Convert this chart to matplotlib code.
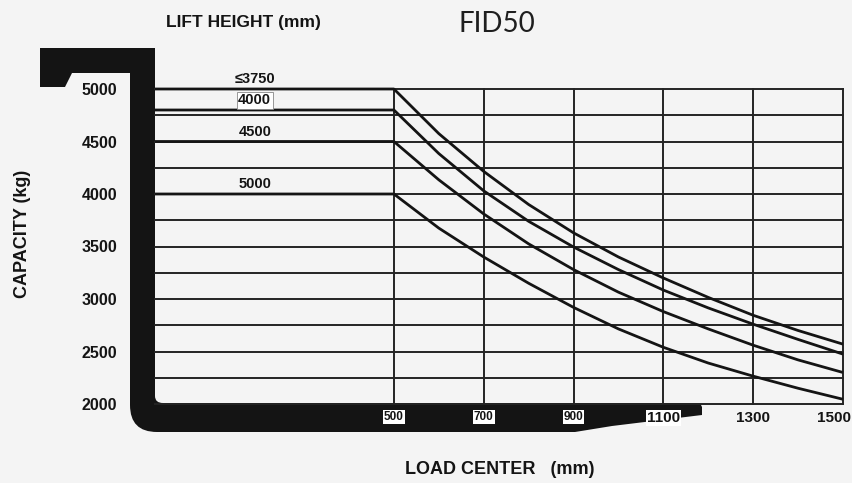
import matplotlib
matplotlib.use("Agg")
import matplotlib.pyplot as plt
import matplotlib.patches as patches
import matplotlib.transforms as mtransforms
from matplotlib.path import Path
from matplotlib import font_manager
import numpy as np

# capacity chart values
load_centers = [500, 600, 700, 800, 900, 1000, 1100, 1200, 1300, 1400, 1500]
lift_heights = ['≤3750', '4000', '4500', '5000']
cap_3750 = [5000, 4575, 4215, 3900, 3630, 3400, 3200, 3015, 2845, 2700, 2570]
cap_4000 = [4800, 4385, 4030, 3740, 3495, 3280, 3085, 2915, 2760, 2615, 2475]
cap_4500 = [4500, 4135, 3810, 3525, 3280, 3065, 2880, 2715, 2560, 2420, 2300]
cap_5000 = [4000, 3675, 3400, 3150, 2920, 2715, 2540, 2390, 2265, 2150, 2045]
series = [cap_3750, cap_4000, cap_4500, cap_5000]

x_ticks = [500, 700, 900, 1100, 1300, 1500]
x_tick_labels = ['500', '700', '900', '1100', '1300', '1500']
y_ticks = [2000, 2500, 3000, 3500, 4000, 4500, 5000]
y_tick_labels = ['2000', '2500', '3000', '3500', '4000', '4500', '5000']

title = 'FID50'
top_label = 'LIFT HEIGHT (mm)'
x_label = 'LOAD CENTER   (mm)'
y_label = 'CAPACITY (kg)'

names = {f.name for f in font_manager.fontManager.ttflist}
bold_font = 'Liberation Sans' if 'Liberation Sans' in names else 'DejaVu Sans'
fonts = [bold_font, 'DejaVu Sans']

bg = '#f4f4f4'
ink = '#141414'
W, H = 853, 483

fig = plt.figure(figsize=(W / 100, H / 100), dpi=100, facecolor=bg)

# background layer in pixel coordinates for the thick black frame
ax_bg = fig.add_axes([0, 0, 1, 1], zorder=0)
ax_bg.set_xlim(0, W)
ax_bg.set_ylim(H, 0)
ax_bg.axis('off')
ax_bg.set_facecolor(bg)

verts = [
    (40, 48), (155, 48), (155, 396),
    (155, 403), (163, 403),
    (700, 403), (702, 407), (702, 415), (612, 426), (575, 432), (157, 432),
    (130, 432), (130, 405),
    (130, 73), (72, 73), (65, 87), (40, 87), (40, 48),
]
codes = [Path.MOVETO, Path.LINETO, Path.LINETO,
         Path.CURVE3, Path.CURVE3,
         Path.LINETO, Path.LINETO, Path.LINETO, Path.LINETO, Path.LINETO, Path.LINETO,
         Path.CURVE3, Path.CURVE3,
         Path.LINETO, Path.LINETO, Path.LINETO, Path.LINETO, Path.CLOSEPOLY]
ax_bg.add_patch(patches.PathPatch(Path(verts, codes), facecolor=ink, edgecolor='none'))

# main chart
x_left = -32
ax = fig.add_axes([155 / W, 1 - 404 / H, (843 - 155) / W, (404 - 89) / H], zorder=1)
ax.set_facecolor('none')
ax.set_xlim(x_left, 1500)
ax.set_ylim(2000, 5000)
for s in ax.spines.values():
    s.set_visible(False)

for v in np.arange(2000, 5001, 250):
    ax.axhline(v, color='#242424', lw=1.4, zorder=1, clip_on=False)
for v in x_ticks:
    ax.axvline(v, color='#242424', lw=1.4, zorder=1, clip_on=False)

for caps, name in zip(series, lift_heights):
    ax.plot([x_left] + load_centers, [caps[0]] + caps, color=ink, lw=2.0,
            zorder=3, clip_on=False, solid_capstyle='butt', solid_joinstyle='round')
    box = None
    if name == '4000':
        box = dict(boxstyle='square,pad=0.1', facecolor='white', edgecolor='#888888', lw=0.6)
    ax.annotate(name, xy=(190, caps[0]), xytext=(0, 7), textcoords='offset points',
                ha='center', va='center', fontsize=10.5, fontweight='bold',
                family=fonts, color=ink, bbox=box, zorder=4)

ax.set_yticks(y_ticks)
ax.set_yticklabels(y_tick_labels, family=fonts, fontweight='bold', fontsize=11.5, color=ink)
ax.tick_params(axis='y', length=0, pad=27)

ax.set_xticks(x_ticks)
ax.set_xticklabels(x_tick_labels, family=fonts, fontweight='bold', fontsize=11, color=ink)
ax.tick_params(axis='x', length=0, pad=5)
for lbl in ax.get_xticklabels():
    if lbl.get_text() in ('500', '700', '900'):
        lbl.set_fontsize(8.5)
        lbl.set_bbox(dict(boxstyle='square,pad=0.08', facecolor='white', edgecolor='none'))
    elif lbl.get_text() == '1100':
        lbl.set_bbox(dict(boxstyle='square,pad=0.05', facecolor='white', edgecolor='none'))
    elif lbl.get_text() == '1500':
        lbl.set_transform(lbl.get_transform() +
                          mtransforms.ScaledTranslation(-9 / 100, 0, fig.dpi_scale_trans))

fig.text(497 / W, 1 - 24 / H, title, ha='center', va='center', fontsize=20,
         family=['Lato', 'DejaVu Sans'], color='#1e1e1e')
fig.text(243 / W, 1 - 22 / H, top_label, ha='center', va='center', fontsize=12.5,
         fontweight='bold', family=fonts, color=ink)
fig.text(500 / W, 1 - 470 / H, x_label, ha='center', va='center', fontsize=13,
         fontweight='bold', family=fonts, color=ink)
fig.text(23 / W, 1 - 234 / H, y_label, ha='center', va='center', fontsize=13,
         fontweight='bold', family=fonts, color=ink, rotation=90)

fig.savefig('out.png', dpi=100, facecolor=bg)
